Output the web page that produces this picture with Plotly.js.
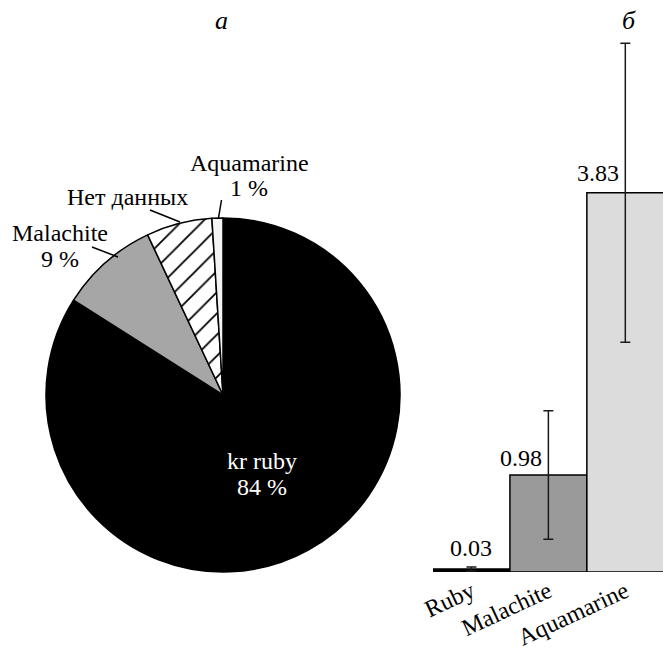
<!DOCTYPE html>
<html>
<head>
<meta charset="utf-8">
<script src="https://cdn.plot.ly/plotly-3.0.1.min.js"></script>
<style>html,body{margin:0;padding:0;background:#fff;}#chart{width:663px;height:650px;}</style>
</head>
<body>
<div id="chart"></div>
<script>
// ---- data ----
const pieLabels = ['kr ruby', 'Malachite', 'Нет данных', 'Aquamarine'];
const pieValues = [84, 9, 6, 1];
const pieShowPct = [true, true, false, true];
const barCats = ['Ruby', 'Malachite', 'Aquamarine'];
const barValues = [0.03, 0.98, 3.83];
const barErrors = [0.02, 0.65, 1.51];
const panelTitles = ['а', 'б'];

// ---- styles ----
const W = 663, H = 650, T = 30, B = 78;
const plotH = H - T - B;
const FONT = '"Liberation Serif", "Times New Roman", Times, serif';
const pieColors = ['#000000', '#a6a6a6', '#f6f6f6', '#f4f4f4'];
const barColors = ['#000000', '#9a9a9a', '#dcdcdc'];
const px = x => x / W;
const py = y => (H - B - y) / plotH;

// label placement (pixel centres): [name line, percent line]
const pieLabelPos = [
  {x: 262, y1: 461, y2: 487, color: '#ffffff'},
  {x: 60, y1: 233, y2: 259, color: '#000000'},
  {x: 127, y1: 197, y2: null, color: '#000000'},
  {x: 249, y1: 163, y2: 188, color: '#000000'}
];
const leaders = [
  null,
  [92, 247, 118, 257],
  [150, 210, 180, 222],
  [221.5, 200, 218.5, 218]
];
const barLabelShift = [[0, 6], [-27, 2], [-27, 5]];

const pie = {
  type: 'pie',
  labels: pieLabels,
  values: pieValues,
  sort: false,
  direction: 'clockwise',
  rotation: 0,
  textinfo: 'none',
  hoverinfo: 'none',
  showlegend: false,
  marker: {
    colors: pieColors,
    line: {color: '#000000', width: 1.5},
    pattern: {shape: ['', '', '/', ''], fgcolor: '#000000', size: 15, solidity: 0.12}
  },
  domain: {x: [px(223 - 177.5), px(223 + 177.5)], y: [0, py(218)]}
};

const bar = {
  type: 'bar',
  x: barCats,
  y: barValues,
  xaxis: 'x2', yaxis: 'y2',
  marker: {color: barColors, line: {color: '#000000', width: 1.5}},
  error_y: {type: 'data', array: barErrors, visible: true, color: '#1a1a1a', thickness: 1.5, width: 5},
  hoverinfo: 'none',
  showlegend: false
};

const annotations = [];
pieLabels.forEach((lab, i) => {
  const p = pieLabelPos[i];
  annotations.push({xref: 'paper', yref: 'paper', x: px(p.x), y: py(p.y1), text: lab, showarrow: false,
    xanchor: 'center', yanchor: 'middle', font: {family: FONT, size: 24, color: p.color}});
  if (pieShowPct[i]) {
    annotations.push({xref: 'paper', yref: 'paper', x: px(p.x), y: py(p.y2), text: pieValues[i] + ' %', showarrow: false,
      xanchor: 'center', yanchor: 'middle', font: {family: FONT, size: 24, color: p.color}});
  }
});
barCats.forEach((c, i) => {
  annotations.push({xref: 'x2', yref: 'y2', x: c, y: barValues[i], text: barValues[i].toFixed(2), showarrow: false,
    xanchor: 'center', yanchor: 'bottom', xshift: barLabelShift[i][0], yshift: barLabelShift[i][1],
    font: {family: FONT, size: 24, color: '#000000'}});
});
annotations.push({xref: 'paper', yref: 'paper', x: px(221), y: py(20), text: '<i>' + panelTitles[0] + '</i>', showarrow: false,
  xanchor: 'center', yanchor: 'middle', font: {family: FONT, size: 26, color: '#000000'}});
annotations.push({xref: 'paper', yref: 'paper', x: px(629), y: py(20), text: '<i>' + panelTitles[1] + '</i>', showarrow: false,
  xanchor: 'center', yanchor: 'middle', font: {family: FONT, size: 26, color: '#000000'}});

const shapes = leaders.filter(Boolean).map(l => ({
  type: 'line', xref: 'paper', yref: 'paper', x0: px(l[0]), y0: py(l[1]), x1: px(l[2]), y1: py(l[3]),
  line: {color: '#000000', width: 1.5}
}));

const layout = {
  width: W, height: H,
  margin: {l: 0, r: 0, t: T, b: B, pad: 0},
  paper_bgcolor: '#ffffff', plot_bgcolor: 'rgba(0,0,0,0)',
  bargap: 0,
  xaxis2: {domain: [px(433), 1], anchor: 'y2', range: [-0.5, 2.49], showgrid: false, zeroline: false,
    showline: false, ticks: '', tickangle: -25, tickfont: {family: FONT, size: 24, color: '#000000'}, fixedrange: true},
  yaxis2: {domain: [0, 1], anchor: 'x2', range: [0, plotH / 99], visible: false, showgrid: false, zeroline: false, fixedrange: true},
  annotations: annotations,
  shapes: shapes,
  font: {family: FONT}
};

Plotly.newPlot('chart', [pie, bar], layout, {displayModeBar: false, staticPlot: true});
</script>
</body>
</html>
